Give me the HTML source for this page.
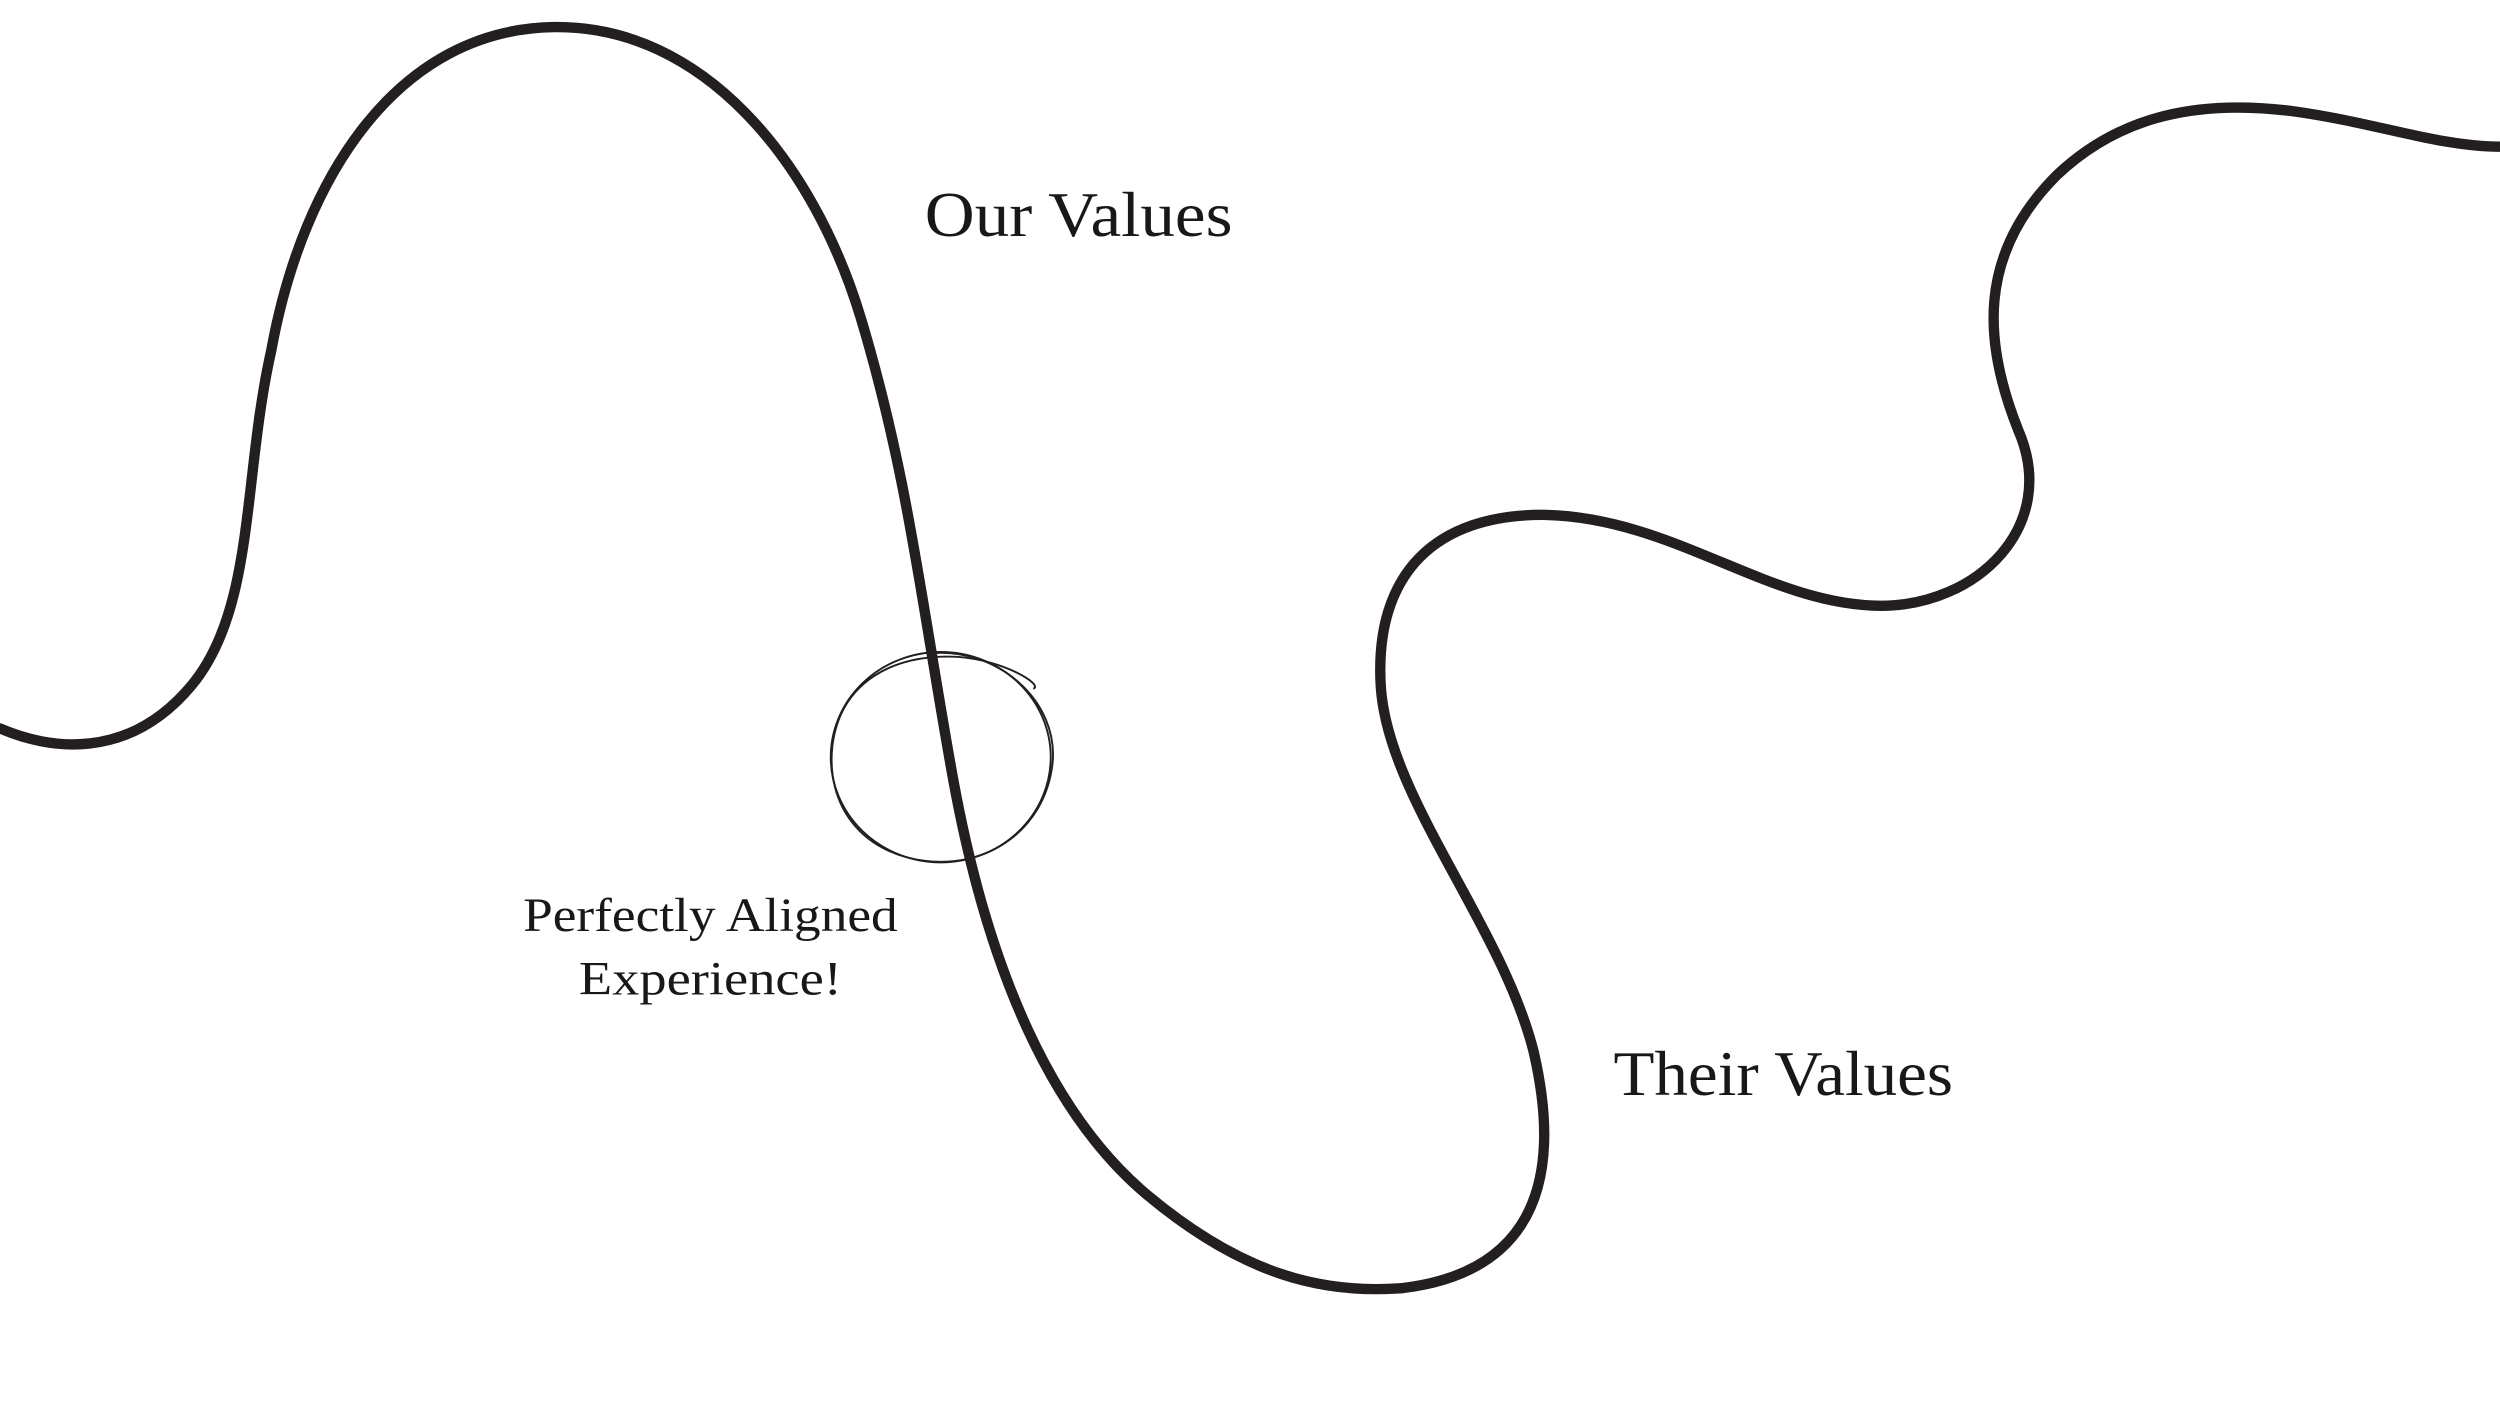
<!DOCTYPE html>
<html>
<head>
<meta charset="utf-8">
<style>
html,body{margin:0;padding:0;background:#fff;}
svg{display:block;}
text{font-family:"Liberation Serif",serif;fill:#1a1718;}
</style>
</head>
<body>
<svg width="2500" height="1406" viewBox="0 0 1568 882" xmlns="http://www.w3.org/2000/svg">
<rect width="1568" height="882" fill="#fff"/>
<path d="M0,457 C30,470 80,478 120,430 C160,382 152,300 170,220 C190,110 250,18 348,17 C440,16 510,100 540,200 C570,300 578,380 598,490 C620,610 660,700 720,750 C780,800 830,812 880,808 C945,800 985,760 962,660 C942,580 870,500 866,430 C862,360 900,322 970,323 C1050,325 1110,380 1180,380 C1240,380 1292,330 1266,270 C1244,215 1240,160 1290,110 C1330,72 1380,62 1440,70 C1490,77 1530,92 1568,92" fill="none" stroke="#231f20" stroke-width="6.5" stroke-linecap="round"/>
<g fill="none" stroke="#231f20" stroke-width="1.2">
<ellipse cx="590" cy="475" rx="69" ry="66"/>
<path d="M582,410 C625,405 665,440 660,480 C655,520 620,545 580,540 C540,535 518,505 522,468 C527,428 560,410 600,412 C630,414 655,430 648,432"/>
</g>
<text x="580" y="148" font-size="40" textLength="193" lengthAdjust="spacingAndGlyphs">Our Values</text>
<text x="1012" y="687" font-size="40" textLength="213" lengthAdjust="spacingAndGlyphs">Their Values</text>
<text x="328" y="584" font-size="30" textLength="235" lengthAdjust="spacingAndGlyphs">Perfectly Aligned</text>
<text x="363" y="624" font-size="30" textLength="165" lengthAdjust="spacingAndGlyphs">Experience!</text>
</svg>
</body>
</html>
